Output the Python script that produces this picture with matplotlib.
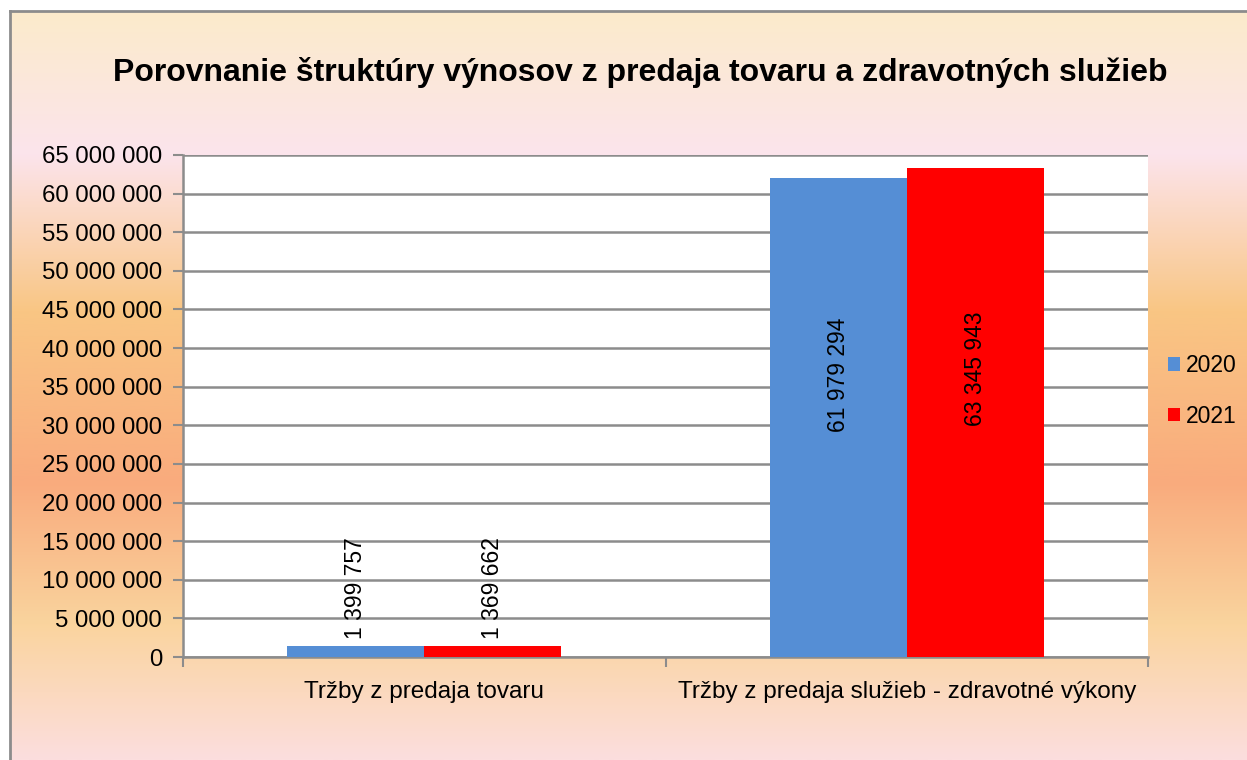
import numpy as np
import matplotlib.pyplot as plt
from matplotlib.colors import LinearSegmentedColormap
from matplotlib.ticker import FuncFormatter, MultipleLocator

plt.rcParams['font.family'] = ['Liberation Sans', 'DejaVu Sans']

categories = ["Tržby z predaja tovaru", "Tržby z predaja služieb - zdravotné výkony"]
years = ["2020", "2021"]
values_2020 = [1399757, 61979294]
values_2021 = [1369662, 63345943]
colors = ["#558ED5", "#FF0000"]

title = "Porovnanie štruktúry výnosov z predaja tovaru a zdravotných služieb"

W, H = 1247, 760
fig = plt.figure(figsize=(W / 100, H / 100), dpi=100)

# background gradient (chart area style)
stops = [(0.0, "#FBEBCB"), (0.19, "#FCE4EC"), (0.40, "#F9C684"),
         (0.63, "#F9AB7D"), (0.82, "#FAD49E"), (1.0, "#FCDEDE")]
cmap = LinearSegmentedColormap.from_list("bg", stops)
bg = fig.add_axes([10 / W, 0, 1 - 10 / W, 1 - 11 / H], zorder=-10)
grad = np.linspace(0, 1, 256).reshape(-1, 1)
bg.imshow(grad, cmap=cmap, aspect="auto", extent=[0, 1, 0, 1], origin="upper")
bg.set_xticks([])
bg.set_yticks([])
for s in ["right", "bottom"]:
    bg.spines[s].set_visible(False)
for s in ["left", "top"]:
    bg.spines[s].set_color("#8C8C8C")
    bg.spines[s].set_linewidth(2)

ax = fig.add_axes([183 / W, 1 - 657 / H, (1148 - 183) / W, (657 - 155) / H])
ax.set_facecolor("white")

x = np.arange(len(categories))
bw = 0.284
b1 = ax.bar(x - bw / 2, values_2020, bw, color=colors[0], label=years[0], zorder=3)
b2 = ax.bar(x + bw / 2, values_2021, bw, color=colors[1], label=years[1], zorder=3)

for bars in (b1, b2):
    for rect in bars:
        v = rect.get_height()
        cx = rect.get_x() + rect.get_width() / 2
        lab = f"{v:,}".replace(",", " ")
        if v > 30e6:
            ax.text(cx, v * 0.59, lab, rotation=90, ha="center", va="center",
                    fontsize=16.5, zorder=4)
        else:
            ax.annotate(lab, (cx, v), xytext=(0, 5), textcoords="offset points",
                        rotation=90, ha="center", va="bottom", fontsize=16.5, zorder=4)

ax.set_xlim(-0.5, 1.5)
ax.set_ylim(0, 65e6)
ax.yaxis.set_major_locator(MultipleLocator(5e6))
ax.yaxis.set_major_formatter(FuncFormatter(lambda v, p: f"{int(v):,}".replace(",", " ")))
ax.grid(axis="y", color="#8C8C8C", linewidth=1.8, zorder=0)
ax.set_axisbelow(True)

ax.set_xticks([-0.5, 0.5, 1.5])
ax.set_xticklabels([])
ax.set_xticks(x, minor=True)
ax.set_xticklabels(categories, minor=True)
ax.tick_params(axis="x", which="minor", length=0, pad=17, labelsize=17.5)
ax.tick_params(axis="x", which="major", length=7, width=1.5, color="#8C8C8C", direction="out")
ax.tick_params(axis="y", length=7, width=1.5, color="#8C8C8C", labelsize=17.3, pad=8)

for s in ["top", "right"]:
    ax.spines[s].set_visible(False)
for s in ["left", "bottom"]:
    ax.spines[s].set_color("#8C8C8C")
    ax.spines[s].set_linewidth(1.8)

fig.text(640 / W, 1 - 72 / H, title, ha="center", va="center",
         fontsize=23, fontweight="bold")

leg = ax.legend(loc="center left", bbox_to_anchor=(1.011, 0.53), frameon=False,
                fontsize=16.5, handlelength=0.55, handleheight=0.55, handletextpad=0.25,
                labelspacing=1.2, borderaxespad=0)

fig.savefig("out.png", dpi=100)
